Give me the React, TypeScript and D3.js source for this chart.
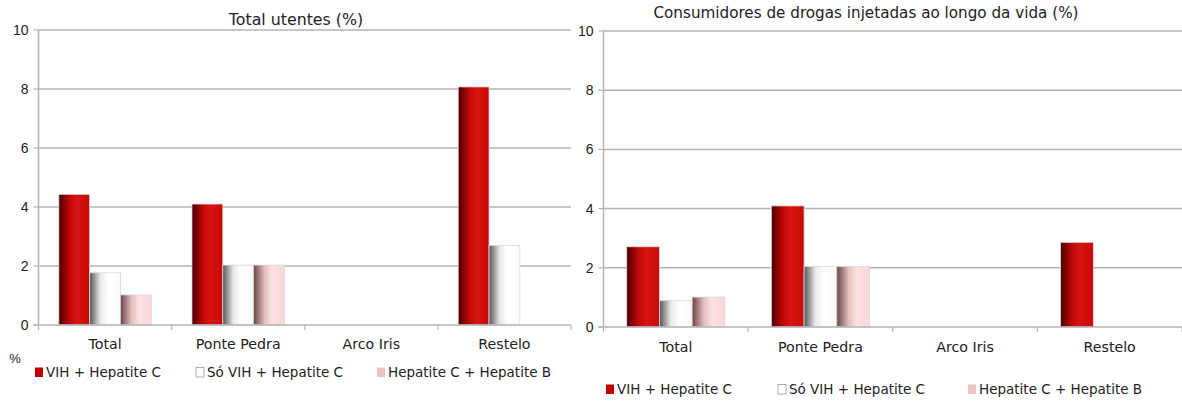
import React from "react";
import * as d3 from "d3";

const categories = ["Total", "Ponte Pedra", "Arco Iris", "Restelo"];
const seriesNames = ["VIH + Hepatite C", "Só VIH + Hepatite C", "Hepatite C + Hepatite B"];
const leftVih = [4.43, 4.1, 0, 8.07];
const leftSoVih = [1.77, 2.03, 0, 2.7];
const leftHepB = [1.02, 2.03, 0, 0];
const rightVih = [2.71, 4.09, 0, 2.86];
const rightSoVih = [0.89, 2.04, 0, 0];
const rightHepB = [1.01, 2.04, 0, 0];
const yTicks = [0, 2, 4, 6, 8, 10];
const titles = ["Total utentes (%)", "Consumidores de drogas injetadas ao longo da vida (%)"];

const FONT = "'Liberation Sans', Arial, sans-serif";
const CAT_FONT = "'DejaVu Sans', sans-serif";

const grads = ["gRed", "gWhite", "gPink"];
const swatch = ["#c00000", "#ffffff", "#ecc4c4"];

type PanelProps = {
  x0: number; x1: number; y0: number; y10: number;
  series: number[][]; title: string; titleX: number; titleY: number; titleSize: number;
  catY: number; legY: number; legX: number[]; showPct?: boolean; padFrac: number;
};

function Panel(p: PanelProps) {
  const y = d3.scaleLinear().domain([0, 10]).range([p.y0, p.y10]);
  const x = d3.scaleBand<string>().domain(categories).range([p.x0, p.x1]).paddingInner(0).paddingOuter(0);
  const inner = d3.scaleBand<number>().domain([0, 1, 2]).range([0, x.bandwidth()]).paddingOuter(p.padFrac).paddingInner(0);
  const grid = "#b4b4b4";
  return (
    <g>
      <text x={p.titleX} y={p.titleY} textAnchor="middle" fontFamily={CAT_FONT} fontSize={p.titleSize} fill="#222">{p.title}</text>
      {yTicks.map((t) => (
        <g key={t}>
          {t > 0 && <line x1={p.x0} x2={p.x1} y1={y(t)} y2={y(t)} stroke={grid} strokeWidth={1.5} />}
          <line x1={p.x0 - 5} x2={p.x0} y1={y(t)} y2={y(t)} stroke={grid} strokeWidth={1.2} />
          <text x={p.x0 - 10} y={y(t)} dy="0.35em" textAnchor="end" fontFamily={FONT} fontSize={14} fill="#222">{t}</text>
        </g>
      ))}
      <line x1={p.x0} x2={p.x0} y1={p.y10} y2={p.y0} stroke={grid} strokeWidth={1.5} />
      {categories.map((c) => (
        <g key={c}>
          {p.series.map((s, i) => {
            const v = s[categories.indexOf(c)];
            if (!v) return null;
            const bx = (x(c) as number) + (inner(i) as number);
            return (
              <rect key={i} x={bx} y={y(v)} width={inner.bandwidth()} height={y(0) - y(v)}
                fill={`url(#${grads[i]})`} stroke="#d8d8d8" strokeWidth={0.8} />
            );
          })}
          <text x={(x(c) as number) + x.bandwidth() / 2} y={p.catY} textAnchor="middle" fontFamily={CAT_FONT} fontSize={14.2} fill="#222">{c}</text>
        </g>
      ))}
      <line x1={p.x0 - 5} x2={p.x1} y1={p.y0} y2={p.y0} stroke={grid} strokeWidth={1.5} />
      {categories.concat(["end"]).map((c, i) => {
        const tx = p.x0 + i * x.bandwidth();
        return <line key={c} x1={tx} x2={tx} y1={p.y0} y2={p.y0 + 5} stroke={grid} strokeWidth={1.2} />;
      })}
      {p.showPct && <text x={15} y={363} textAnchor="middle" fontFamily={FONT} fontSize={13} fill="#222">%</text>}
      {seriesNames.map((n, i) => (
        <g key={n}>
          <rect x={p.legX[i]} y={p.legY - 9.5} width={8} height={9.5} fill={swatch[i]} stroke={i === 1 ? "#999" : "none"} strokeWidth={0.8} />
          <text x={p.legX[i] + 11} y={p.legY} fontFamily={CAT_FONT} fontSize={13.5} fill="#222">{n}</text>
        </g>
      ))}
    </g>
  );
}

export default function App() {
  return (
    <svg width={1182} height={403} style={{ position: "absolute", left: 0, top: 0, background: "#fff" }}>
      <defs>
        <linearGradient id="gRed" x1="0" x2="1" y1="0" y2="0">
          <stop offset="0" stopColor="#4a0000" />
          <stop offset="0.35" stopColor="#c00606" />
          <stop offset="0.6" stopColor="#d81414" />
          <stop offset="1" stopColor="#c80808" />
        </linearGradient>
        <linearGradient id="gWhite" x1="0" x2="1" y1="0" y2="0">
          <stop offset="0" stopColor="#555" />
          <stop offset="0.35" stopColor="#eaeaea" />
          <stop offset="0.6" stopColor="#ffffff" />
          <stop offset="1" stopColor="#fafafa" />
        </linearGradient>
        <linearGradient id="gPink" x1="0" x2="1" y1="0" y2="0">
          <stop offset="0" stopColor="#6a4444" />
          <stop offset="0.35" stopColor="#e2bcbc" />
          <stop offset="0.6" stopColor="#fde0e0" />
          <stop offset="1" stopColor="#f8d8d8" />
        </linearGradient>
      </defs>
      <Panel x0={38.5} x1={571} y0={325} y10={30} series={[leftVih, leftSoVih, leftHepB]}
        title={titles[0]} titleX={296} titleY={25} titleSize={15.8} catY={349} legY={377} legX={[35, 196, 377]} showPct padFrac={0.66} />
      <Panel x0={603.5} x1={1182} y0={327} y10={31} series={[rightVih, rightSoVih, rightHepB]}
        title={titles[1]} titleX={866} titleY={18} titleSize={15.2} catY={352} legY={394} legX={[606, 778, 968]} padFrac={0.71} />
    </svg>
  );
}
